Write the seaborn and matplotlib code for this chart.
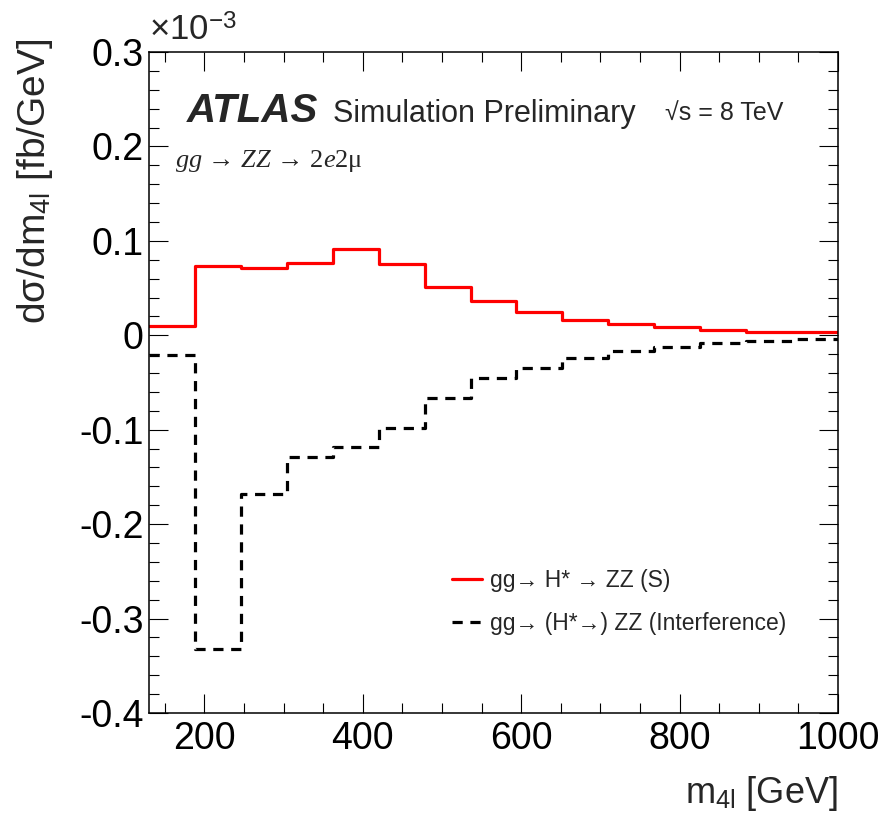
import numpy as np
import pandas as pd
import matplotlib
matplotlib.use("Agg")
import matplotlib.pyplot as plt
import seaborn as sns
from matplotlib.ticker import MultipleLocator
from matplotlib.lines import Line2D

# ---- data (values in units of 1e-3 fb/GeV) ----
bin_edges = [130, 188, 246, 304, 362, 420, 478, 536, 594, 652, 710, 768, 826, 884, 942, 1000]
signal = [0.010, 0.073, 0.071, 0.077, 0.091, 0.075, 0.051, 0.036, 0.025, 0.016, 0.012,
          0.0085, 0.0055, 0.004, 0.003]
interference = [-0.021, -0.332, -0.168, -0.129, -0.118, -0.098, -0.066, -0.045, -0.035,
                -0.024, -0.017, -0.012, -0.008, -0.0064, -0.004]
series_labels = ["gg\u2192 H* \u2192 ZZ (S)", "gg\u2192 (H*\u2192) ZZ (Interference)"]
ytick_values = [-0.4, -0.3, -0.2, -0.1, 0, 0.1, 0.2, 0.3]
ytick_labels = ["-0.4", "-0.3", "-0.2", "-0.1", "0", "0.1", "0.2", "0.3"]

sns.set_theme(style="ticks")
plt.rcParams["font.family"] = ["Liberation Sans", "DejaVu Sans"]
plt.rcParams["mathtext.fontset"] = "custom"
plt.rcParams["mathtext.rm"] = "Liberation Sans"
plt.rcParams["mathtext.it"] = "Liberation Serif:italic"

def step_frame(edges, vals, name):
    return pd.DataFrame({"x": edges, "y": list(vals) + [vals[-1]], "series": name})

df_s = step_frame(bin_edges, signal, series_labels[0])
df_i = step_frame(bin_edges, interference, series_labels[1])

fig = plt.figure(figsize=(8.86, 8.21), dpi=100)
ax = fig.add_axes([149/886, 1 - 713/821, (838 - 149)/886, (713 - 52)/821])

dash = (0, (3.2, 2.4))
sns.lineplot(data=df_s, x="x", y="y", ax=ax, color="#ff0000", linewidth=2.3,
             drawstyle="steps-post", estimator=None, sort=False, legend=False)
sns.lineplot(data=df_i, x="x", y="y", ax=ax, color="black", linewidth=2.3,
             drawstyle="steps-post", estimator=None, sort=False, legend=False,
             linestyle=dash)

ax.set_xlim(130, 1000)
ax.set_ylim(-0.4, 0.3)
ax.xaxis.set_major_locator(MultipleLocator(200))
ax.xaxis.set_minor_locator(MultipleLocator(50))
ax.yaxis.set_minor_locator(MultipleLocator(0.02))
ax.set_yticks(ytick_values)
ax.set_yticklabels(ytick_labels)

for s in ax.spines.values():
    s.set_linewidth(1.1)
    s.set_color("black")
ax.tick_params(which="both", direction="in", top=True, right=True, colors="black",
               labelsize=27, width=0.8)
ax.tick_params(which="major", length=14)
ax.tick_params(which="minor", length=7)
ax.tick_params(axis="x", which="major", pad=6)
ax.tick_params(axis="y", which="major", pad=4)

ax.set_xlabel("m$_{\\mathregular{4l}}$ [GeV]", fontsize=26, loc="right")
ax.xaxis.set_label_coords(1.0, -0.092)
ax.set_ylabel("d\u03c3/dm$_{\\mathregular{4l}}$ [fb/GeV]", fontsize=28, loc="top")
ax.yaxis.set_label_coords(-0.137, 1.02)

ax.text(0.0, 1.006, "\u00d710$^{\\mathregular{-3}}$", transform=ax.transAxes,
        fontsize=25, ha="left", va="bottom")

ax.text(0.055, 0.894, "ATLAS", transform=ax.transAxes, fontsize=29,
        fontweight="bold", fontstyle="italic", ha="left", va="baseline")
ax.text(0.267, 0.894, "Simulation Preliminary", transform=ax.transAxes,
        fontsize=22, ha="left", va="baseline")
ax.text(0.749, 0.897, "\u221as = 8 TeV", transform=ax.transAxes,
        fontsize=18, ha="left", va="baseline")
ax.text(0.038, 0.826, "$gg$ \u2192 $ZZ$ \u2192 2$e$2\u03bc", transform=ax.transAxes,
        fontsize=19, ha="left", va="baseline",
        family=["Liberation Serif", "DejaVu Serif"])

handles = [Line2D([], [], color="#ff0000", linewidth=2.3),
           Line2D([], [], color="black", linewidth=2.3, linestyle=dash)]
ax.legend(handles, series_labels, loc="upper left", bbox_to_anchor=(0.427, 0.232),
          frameon=False, fontsize=16.5, handlelength=1.3, handletextpad=0.35,
          labelspacing=0.9, borderaxespad=0)

fig.savefig("out.png", dpi=100)
